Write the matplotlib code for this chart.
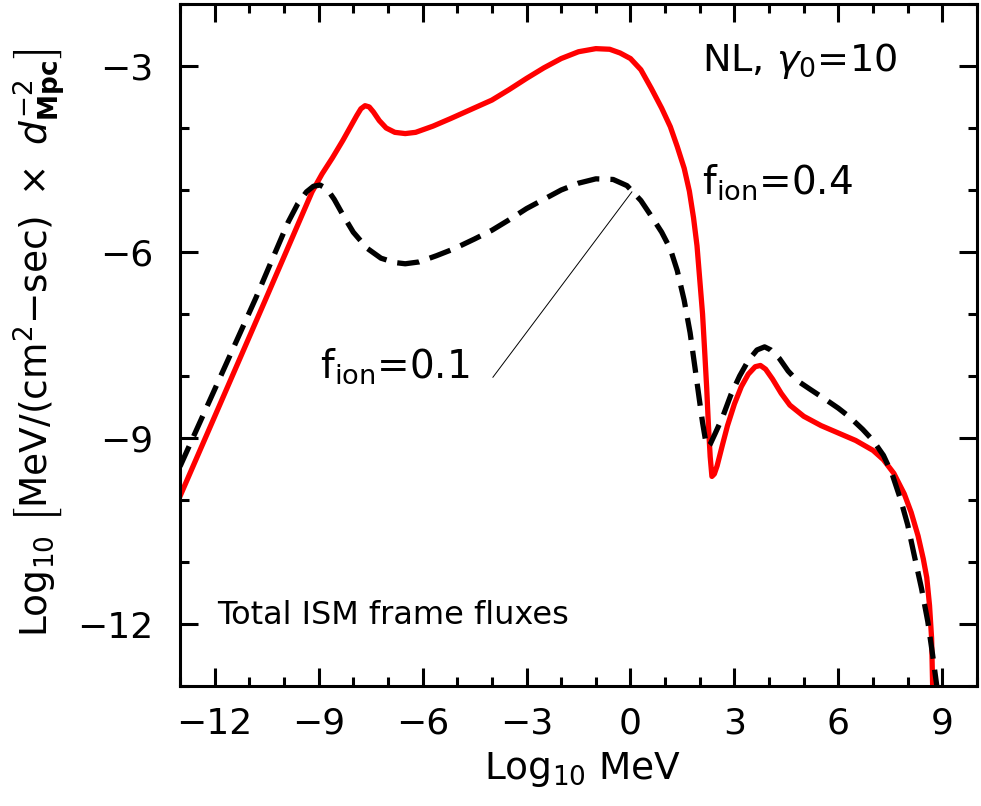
import numpy as np
import matplotlib
matplotlib.use("Agg")
from matplotlib import pyplot as plt

plt.rcParams['font.family'] = ['DejaVu Sans']
plt.rcParams['mathtext.fontset'] = 'dejavusans'

# f_ion = 0.4 (solid red)
x_04 = [-13.0, -10.55, -9.19, -8.9, -8.6, -8.3, -8.05, -7.9, -7.78, -7.66, -7.54, -7.42, -7.25,
        -7.05, -6.8, -6.5, -6.2, -5.7, -5.2, -4.6, -4.0, -3.5, -3.0, -2.5, -2.0, -1.5,
        -1.0, -0.6, -0.3, 0.0, 0.3, 0.6, 0.9, 1.15, 1.35, 1.55, 1.7, 1.82, 1.92, 2.0,
        2.08, 2.14, 2.2, 2.25, 2.3, 2.35, 2.42, 2.5, 2.65, 2.8, 3.0, 3.2, 3.4, 3.6,
        3.75, 3.9, 4.1, 4.35, 4.6, 5.0, 5.5, 6.0, 6.5, 7.0, 7.3, 7.6, 7.9, 8.1, 8.3,
        8.45, 8.55, 8.63, 8.69, 8.72]
y_04 = [-9.94, -6.79, -5.03, -4.74, -4.48, -4.2, -3.95, -3.8, -3.69, -3.64, -3.66, -3.74, -3.88,
        -4.0, -4.07, -4.09, -4.07, -3.97, -3.85, -3.70, -3.55, -3.38, -3.20, -3.03, -2.88, -2.77,
        -2.72, -2.73, -2.79, -2.88, -3.06, -3.36, -3.68, -3.98, -4.30, -4.65, -5.02, -5.45, -5.9, -6.45,
        -7.0, -7.59, -8.2, -8.8, -9.3, -9.62, -9.58, -9.45, -9.12, -8.8, -8.45, -8.17, -7.97, -7.85,
        -7.83, -7.89, -8.05, -8.28, -8.47, -8.65, -8.8, -8.92, -9.04, -9.2, -9.35, -9.57, -9.9, -10.2, -10.58,
        -10.95, -11.25, -11.7, -12.23, -13.0]

# f_ion = 0.1 (dashed black)
x_01 = [-13.0, -10.81, -10.4, -9.88, -9.6, -9.35, -9.15, -8.96, -8.76, -8.55, -8.3, -8.0,
        -7.6, -7.2, -6.8, -6.5, -6.1, -5.6, -5.1, -4.5, -4.0, -3.5, -3.0, -2.5, -2.0,
        -1.5, -1.0, -0.5, -0.1, 0.3, 0.6, 0.9, 1.15, 1.35, 1.55, 1.72, 1.86, 1.98, 2.08,
        2.17, 2.23, 2.3, 2.45, 2.66, 2.9, 3.15, 3.4, 3.65, 3.87, 4.05, 4.3, 4.55, 4.8,
        5.2, 5.66, 6.0, 6.32, 6.7, 7.0, 7.3, 7.55, 7.8, 8.0, 8.2, 8.4, 8.58, 8.72, 8.84]
y_01 = [-9.46, -6.74, -6.2, -5.52, -5.22, -5.03, -4.94, -4.92, -4.98, -5.15, -5.4, -5.68,
        -5.94, -6.1, -6.17, -6.19, -6.16, -6.06, -5.95, -5.79, -5.65, -5.48, -5.3, -5.15, -5.0,
        -4.89, -4.82, -4.83, -4.93, -5.17, -5.42, -5.68, -5.95, -6.3, -6.78, -7.3, -7.86, -8.35, -8.75,
        -9.05, -9.14, -9.1, -8.92, -8.66, -8.3, -8.0, -7.75, -7.58, -7.53, -7.58, -7.72, -7.92, -8.07,
        -8.22, -8.39, -8.52, -8.66, -8.86, -9.04, -9.28, -9.58, -10.0, -10.4, -10.92, -11.43, -11.96, -12.5, -13.0]

x_ticks = [-12, -9, -6, -3, 0, 3, 6, 9]
y_ticks = [-12, -9, -6, -3]

fig = plt.figure(figsize=(9.81, 8.06), dpi=100)
ax = fig.add_axes([180/981, 1-686/806, 797/981, 682/806])

ax.plot(x_04, y_04, color='red', lw=3.8, solid_joinstyle='round')
ax.plot(x_01, y_01, color='black', lw=3.8, dashes=(4.2, 2.1))
# pointer from the f_ion=0.1 label to its curve
ax.plot([-3.97, 0.04], [-8.02, -5.03], color='black', lw=0.7)

ax.set_xlim(-13, 10)
ax.set_ylim(-13, -2)
ax.set_xticks(x_ticks)
ax.set_yticks(y_ticks)
ax.set_xticklabels(['\u2212%d' % -t if t < 0 else '%d' % t for t in x_ticks])
ax.set_yticklabels(['\u2212%d' % -t for t in y_ticks])
ax.set_xticks(np.arange(-13, 11), minor=True)
ax.set_yticks(np.arange(-13, -1), minor=True)
ax.tick_params(which='both', direction='in', top=True, right=True, width=2.2)
ax.tick_params(which='major', length=13)
ax.tick_params(which='minor', length=6.5)
ax.tick_params(axis='x', labelsize=26, pad=15)
ax.tick_params(axis='y', labelsize=26, pad=19)
for s in ax.spines.values():
    s.set_linewidth(2.2)

ax.text(2.06, -3.08, r'NL, $\gamma_0$=10', fontsize=27.5)
ax.text(2.06, -5.06, r'f$_{\mathrm{ion}}$=0.4', fontsize=28)
ax.text(-8.96, -8.02, r'f$_{\mathrm{ion}}$=0.1', fontsize=28)
ax.text(-11.93, -12.0, 'Total ISM frame fluxes', fontsize=23)

fig.text(583/981, 0.045, r'Log$_{10}$ MeV', fontsize=27, ha='center', va='center')
fig.text(40/981, 1-343/806,
         r'Log$_{10}$ $\left[\mathrm{MeV/(cm^2{-}sec)}\ \times\ d^{-2}_{\mathbf{Mpc}}\right]$',
         fontsize=27, rotation=90, ha='center', va='center')

fig.savefig('out.png', dpi=100)
